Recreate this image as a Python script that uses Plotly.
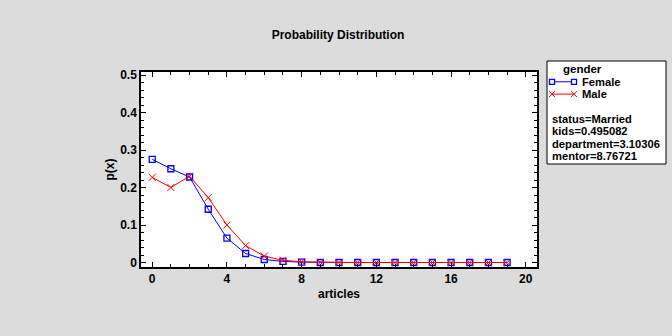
import plotly.graph_objects as go

articles = list(range(20))
female = [0.275, 0.250, 0.228, 0.142, 0.065, 0.024, 0.008, 0.003, 0.001,
          0.0, 0.0, 0.0, 0.0, 0.0, 0.0, 0.0, 0.0, 0.0, 0.0, 0.0]
male = [0.227, 0.200, 0.230, 0.173, 0.100, 0.045, 0.017, 0.006, 0.002,
        0.0005, 0.0, 0.0, 0.0, 0.0, 0.0, 0.0, 0.0, 0.0, 0.0, 0.0]
series_names = ["Female", "Male"]
series_colors = ["#0000FF", "#FF0000"]
title_text = "Probability Distribution"
x_title = "articles"
y_title = "p(x)"
legend_title = "gender"
info_lines = ["status=Married", "kids=0.495082", "department=3.10306", "mentor=8.76721"]

FONT = "Liberation Sans, Arial, sans-serif"
BG = "#DCDCDC"

fig = go.Figure()
fig.add_trace(go.Scatter(
    x=articles, y=female, name=series_names[0], mode="lines+markers",
    line=dict(color=series_colors[0], width=1),
    marker=dict(symbol="square-open", size=6, color=series_colors[0], line=dict(width=1.3)),
    showlegend=False,
))
fig.add_trace(go.Scatter(
    x=articles, y=male, name=series_names[1], mode="lines+markers",
    line=dict(color=series_colors[1], width=1),
    marker=dict(symbol="x-thin-open", size=7, color=series_colors[1],
                line=dict(width=1, color=series_colors[1])),
    showlegend=False,
))

L, R, T, B = 141, 135, 72, 69
W, H = 672, 336
pw, ph = W - L - R, H - T - B

def px_x(px):
    return (px - L) / pw

def px_y(py):
    return (H - B - py) / ph

axis_common = dict(
    showline=True, linecolor="black", linewidth=1.5, mirror="allticks",
    ticks="inside", ticklen=5, tickwidth=1, tickcolor="black",
    showgrid=False, zeroline=False,
    tickfont=dict(family=FONT, size=12, color="black", weight="bold"),
)

fig.update_layout(
    width=W, height=H,
    margin=dict(l=L, r=R, t=T, b=B, pad=0),
    paper_bgcolor=BG, plot_bgcolor="white",
    showlegend=False,
    title=dict(text=title_text, x=(338) / W, xanchor="center", y=1 - 35 / H, yanchor="middle",
               font=dict(family=FONT, size=12, color="black", weight="bold")),
    xaxis=dict(range=[-0.6, 20.6], tickvals=[0, 4, 8, 12, 16, 20],
               minor=dict(dtick=1, tick0=0, ticks="inside", ticklen=3, tickcolor="black"),
               title=dict(text=x_title, standoff=4,
                          font=dict(family=FONT, size=12, color="black", weight="bold")),
               **axis_common),
    yaxis=dict(range=[-0.012, 0.508], tickvals=[0, 0.1, 0.2, 0.3, 0.4, 0.5],
               ticktext=["0", "0.1", "0.2", "0.3", "0.4", "0.5"],
               minor=dict(dtick=0.02, tick0=0, ticks="inside", ticklen=3, tickcolor="black"),
               title=dict(text=y_title, standoff=3,
                          font=dict(family=FONT, size=12, color="black", weight="bold")),
               **axis_common),
)

# legend box
fig.add_shape(type="rect", xref="paper", yref="paper",
              x0=px_x(547), x1=px_x(666), y0=px_y(164), y1=px_y(61),
              line=dict(color="black", width=1), fillcolor="white", layer="below")

fig.add_annotation(text=legend_title, xref="paper", yref="paper",
                   x=px_x(562), y=px_y(69), xanchor="left", yanchor="middle",
                   showarrow=False, borderpad=0,
                   font=dict(family=FONT, size=11.5, color="black", weight="bold"))

# manual legend entries
row_y = [81.8, 94.1]
x_a, x_b = 552, 574
for i, (name, col) in enumerate(zip(series_names, series_colors)):
    yy = row_y[i]
    fig.add_shape(type="line", xref="paper", yref="paper",
                  x0=px_x(x_a), x1=px_x(x_b), y0=px_y(yy), y1=px_y(yy),
                  line=dict(color=col, width=1))
    for cx in (x_a, x_b):
        if i == 0:
            fig.add_shape(type="rect", xref="paper", yref="paper",
                          x0=px_x(cx - 2.5), x1=px_x(cx + 2.5),
                          y0=px_y(yy + 2.5), y1=px_y(yy - 2.5),
                          line=dict(color=col, width=1.3), fillcolor="white")
        else:
            for d in (1, -1):
                fig.add_shape(type="line", xref="paper", yref="paper",
                              x0=px_x(cx - 3), x1=px_x(cx + 3),
                              y0=px_y(yy - 3 * d), y1=px_y(yy + 3 * d),
                              line=dict(color=col, width=1))
    fig.add_annotation(text=name, xref="paper", yref="paper",
                       x=px_x(581), y=px_y(yy), xanchor="left", yanchor="middle",
                       showarrow=False, borderpad=0,
                       font=dict(family=FONT, size=11.2, color="black", weight="bold"))

for i, line in enumerate(info_lines):
    fig.add_annotation(text=line, xref="paper", yref="paper",
                       x=px_x(551), y=px_y(119 + 12.3 * i), xanchor="left", yanchor="middle",
                       showarrow=False, borderpad=0,
                       font=dict(family=FONT, size=11.2, color="black", weight="bold"))

fig.write_html("out.html")
